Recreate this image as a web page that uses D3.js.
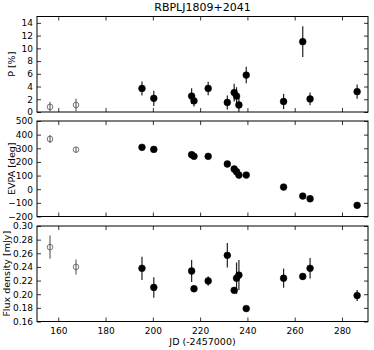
<!DOCTYPE html>
<html>
<head>
<meta charset="utf-8">
<script src="https://cdn.jsdelivr.net/npm/d3@7"></script>
<style>
  body { margin: 0; background: #fff; }
  text { font-family: "DejaVu Sans", sans-serif; }
</style>
</head>
<body>
<div id="chart"></div>
<script>
// Data
var jd       = [156.5, 167.5, 195.4, 200.4, 216.4, 217.4, 223.4, 231.5, 234.4, 235.4, 236.4, 239.5, 255.3, 263.4, 266.5, 286.4];
var openPt   = [true, true, false, false, false, false, false, false, false, false, false, false, false, false, false, false];
var pol      = [0.8, 1.1, 3.7, 2.15, 2.5, 1.75, 3.7, 1.5, 3.05, 2.5, 1.1, 5.8, 1.65, 11.05, 2.05, 3.2];
var polErr   = [0.8, 1.0, 1.1, 1.2, 1.25, 0.9, 1.05, 1.1, 1.4, 1.4, 1.1, 1.3, 1.2, 2.4, 1.0, 1.1];
var evpa     = [368, 290, 307, 292, 253, 241, 241, 185, 148, 128, 104, 104, 16, -50, -70, -118];
var evpaErr  = [30, 20, 8, 8, 8, 8, 8, 8, 10, 12, 25, 8, 8, 8, 8, 8];
var flux     = [0.269, 0.240, 0.238, 0.210, 0.234, 0.208, 0.2195, 0.257, 0.2057, 0.2235, 0.228, 0.179, 0.2235, 0.226, 0.238, 0.198];
var fluxErr  = [0.017, 0.011, 0.017, 0.015, 0.016, 0.004, 0.007, 0.018, 0.003, 0.023, 0.022, 0.002, 0.014, 0.003, 0.015, 0.008];

var xTicks = [160, 180, 200, 220, 240, 260, 280];
var panels = [
    { vals: pol,  errs: polErr,  domain: [0, 15],       ticks: [0, 2, 4, 6, 8, 10, 12, 14], fmt: d3.format("d"),   label: "P [%]",              labelX: 11.5 },
    { vals: evpa, errs: evpaErr, domain: [-200, 500],   ticks: [-200, -100, 0, 100, 200, 300, 400, 500], fmt: d3.format("d"), label: "EVPA [deg]", labelX: 12 },
    { vals: flux, errs: fluxErr, domain: [0.16, 0.30],  ticks: [0.16, 0.18, 0.20, 0.22, 0.24, 0.26, 0.28, 0.30], fmt: d3.format(".2f"), label: "Flux density [mJy]", labelX: 7 }
];

var svgWidth = 374;
var svgHeight = 350;
var left = 37, right = 368;
var panelTop = [16.5, 121, 226];
var panelHeight = 95.5;

var svg = d3.select("#chart")
    .append("svg")
    .attr("width", svgWidth)
    .attr("height", svgHeight);

var x = d3.scaleLinear().domain([151, 291]).range([left, right]);

// title
svg.append("text")
    .attr("x", (left + right) / 2)
    .attr("y", 11)
    .attr("text-anchor", "middle")
    .attr("font-size", 11)
    .text("RBPLJ1809+2041");

panels.forEach(function (p, i) {
    var top = panelTop[i];
    var bottom = top + panelHeight;
    var y = d3.scaleLinear().domain(p.domain).range([bottom, top]);
    var g = svg.append("g");

    // axes with inward ticks on all four sides
    var bottomAxis = d3.axisBottom(x).tickValues(xTicks).tickSize(-4).tickPadding(6);
    if (i < 2) bottomAxis.tickFormat("");
    g.append("g").attr("transform", `translate(0, ${bottom})`).call(bottomAxis);
    g.append("g").attr("transform", `translate(0, ${top})`)
        .call(d3.axisTop(x).tickValues(xTicks).tickSize(-4).tickFormat(""));
    g.append("g").attr("transform", `translate(${left}, 0)`)
        .call(d3.axisLeft(y).tickValues(p.ticks).tickSize(-4).tickPadding(4).tickFormat(p.fmt));
    g.append("g").attr("transform", `translate(${right}, 0)`)
        .call(d3.axisRight(y).tickValues(p.ticks).tickSize(-4).tickFormat(""));

    g.selectAll(".domain").remove();
    g.selectAll(".tick line").attr("stroke", "#000").attr("stroke-width", 0.8);
    g.selectAll(".tick text")
        .attr("font-size", 9)
        .attr("fill", "#000")
        .style("font-family", "'DejaVu Sans', sans-serif");

    g.append("rect")
        .attr("x", left).attr("y", top)
        .attr("width", right - left).attr("height", panelHeight)
        .attr("fill", "none").attr("stroke", "#000").attr("stroke-width", 1);

    // y label
    g.append("text")
        .attr("transform", `translate(${p.labelX}, ${(top + bottom) / 2}) rotate(-90)`)
        .attr("text-anchor", "middle")
        .attr("dy", "0.35em")
        .attr("font-size", 9.5)
        .text(p.label);

    var idx = d3.range(jd.length);

    // error bars
    g.selectAll("line.err")
        .data(idx)
        .enter()
        .append("line")
        .attr("class", "err")
        .attr("x1", d => x(jd[d]))
        .attr("x2", d => x(jd[d]))
        .attr("y1", d => y(p.vals[d] - p.errs[d]))
        .attr("y2", d => y(p.vals[d] + p.errs[d]))
        .attr("stroke", d => openPt[d] ? "#666" : "#222")
        .attr("stroke-width", 1.2);

    // markers
    g.selectAll("circle.pt")
        .data(idx)
        .enter()
        .append("circle")
        .attr("class", "pt")
        .attr("cx", d => x(jd[d]))
        .attr("cy", d => y(p.vals[d]))
        .attr("r", d => openPt[d] ? 2.8 : 3.4)
        .attr("fill", d => openPt[d] ? "none" : "#000")
        .attr("stroke", d => openPt[d] ? "#555" : "#000")
        .attr("stroke-width", d => openPt[d] ? 0.8 : 0.5);
});

// x label
svg.append("text")
    .attr("x", (left + right) / 2)
    .attr("y", 344.5)
    .attr("text-anchor", "middle")
    .attr("font-size", 9.5)
    .text("JD (-2457000)");
</script>
</body>
</html>
